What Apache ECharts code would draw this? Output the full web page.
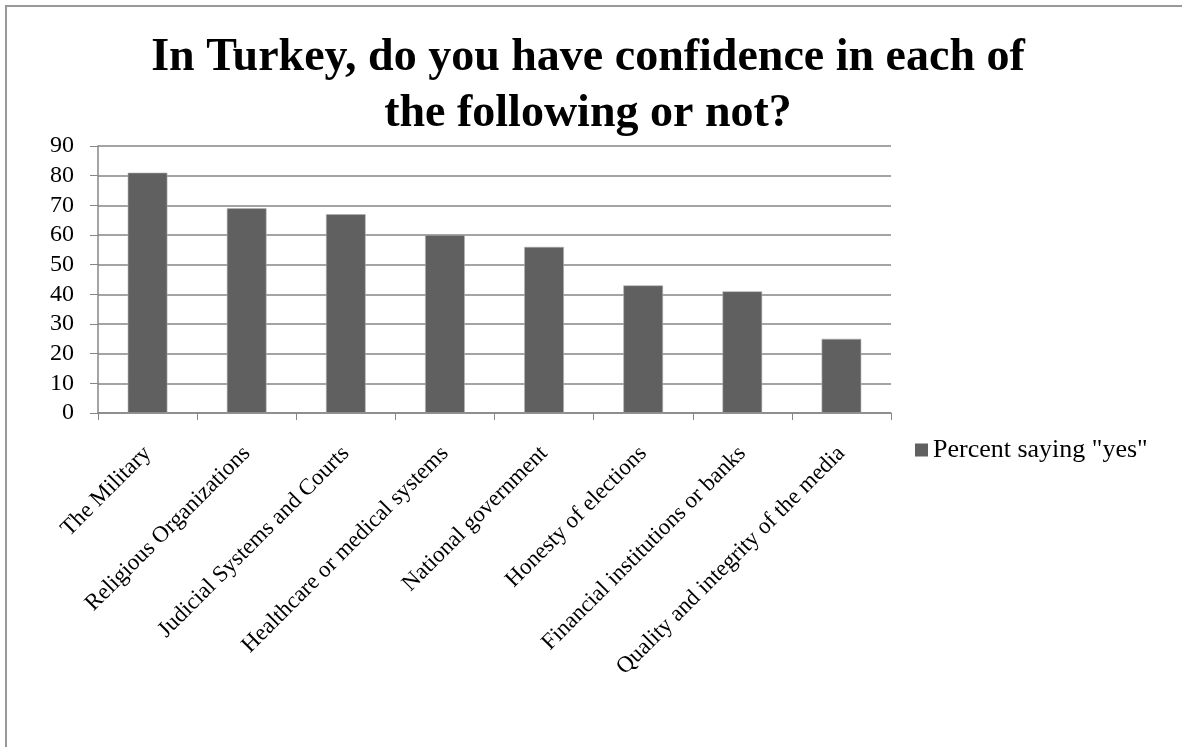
<!DOCTYPE html>
<html>
<head>
<meta charset="utf-8">
<script src="https://cdn.jsdelivr.net/npm/echarts@6/dist/echarts.min.js"></script>
<style>
  html, body { margin: 0; padding: 0; background: #fff; }
  #frame { position: absolute; left: 5px; top: 5px; width: 1177px; height: 742px;
           border-top: 2px solid #999; border-left: 2px solid #999; }
  #main { position: absolute; left: 0; top: 0; width: 1182px; height: 747px; }
</style>
</head>
<body>
<div id="frame"></div>
<div id="main"></div>
<script>
var categories = ['The Military', 'Religious Organizations', 'Judicial Systems and Courts',
    'Healthcare or medical systems', 'National government', 'Honesty of elections',
    'Financial institutions or banks', 'Quality and integrity of the media'];
var yesValues = [81, 69, 67, 60, 56, 43, 41, 25];
var seriesName = 'Percent saying "yes"';

var chart = echarts.init(document.getElementById('main'));

var option = {
    animation: false,
    textStyle: { fontFamily: 'Liberation Serif' },
    title: {
        text: 'In Turkey, do you have confidence in each of\nthe following or not?',
        left: 583,
        textAlign: 'center',
        top: 25,
        textStyle: {
            fontFamily: 'Liberation Serif',
            fontSize: 46,
            fontWeight: 'bold',
            color: '#000',
            lineHeight: 56
        }
    },
    legend: {
        data: [seriesName],
        left: 910,
        top: 432,
        icon: 'rect',
        itemWidth: 13,
        itemHeight: 13,
        itemGap: 5,
        itemStyle: { borderWidth: 0 },
        textStyle: { fontFamily: 'Liberation Serif', fontSize: 26, color: '#000' }
    },
    grid: { left: 98, right: 291, top: 146, bottom: 334 },
    xAxis: {
        type: 'category',
        data: categories,
        axisLine: { lineStyle: { color: '#868686', width: 1.5 } },
        axisTick: { show: true, length: 7, lineStyle: { color: '#868686' } },
        axisLabel: {
            rotate: 45,
            interval: 0,
            margin: 37,
            fontFamily: 'Liberation Serif',
            fontSize: 23,
            color: '#000'
        }
    },
    yAxis: {
        type: 'value',
        min: 0,
        max: 90,
        interval: 10,
        axisLine: { show: true, lineStyle: { color: '#868686', width: 1.5 } },
        axisTick: { show: true, length: 8, lineStyle: { color: '#868686' } },
        splitLine: { lineStyle: { color: '#868686', width: 1.5 } },
        axisLabel: {
            margin: 24,
            fontFamily: 'Liberation Serif',
            fontSize: 24,
            color: '#000'
        }
    },
    series: [{
        name: seriesName,
        type: 'bar',
        data: yesValues,
        barWidth: '40%',
        itemStyle: { color: '#606060', borderColor: '#b0b0b0', borderWidth: 0.6 }
    }]
};

chart.setOption(option);
</script>
</body>
</html>
